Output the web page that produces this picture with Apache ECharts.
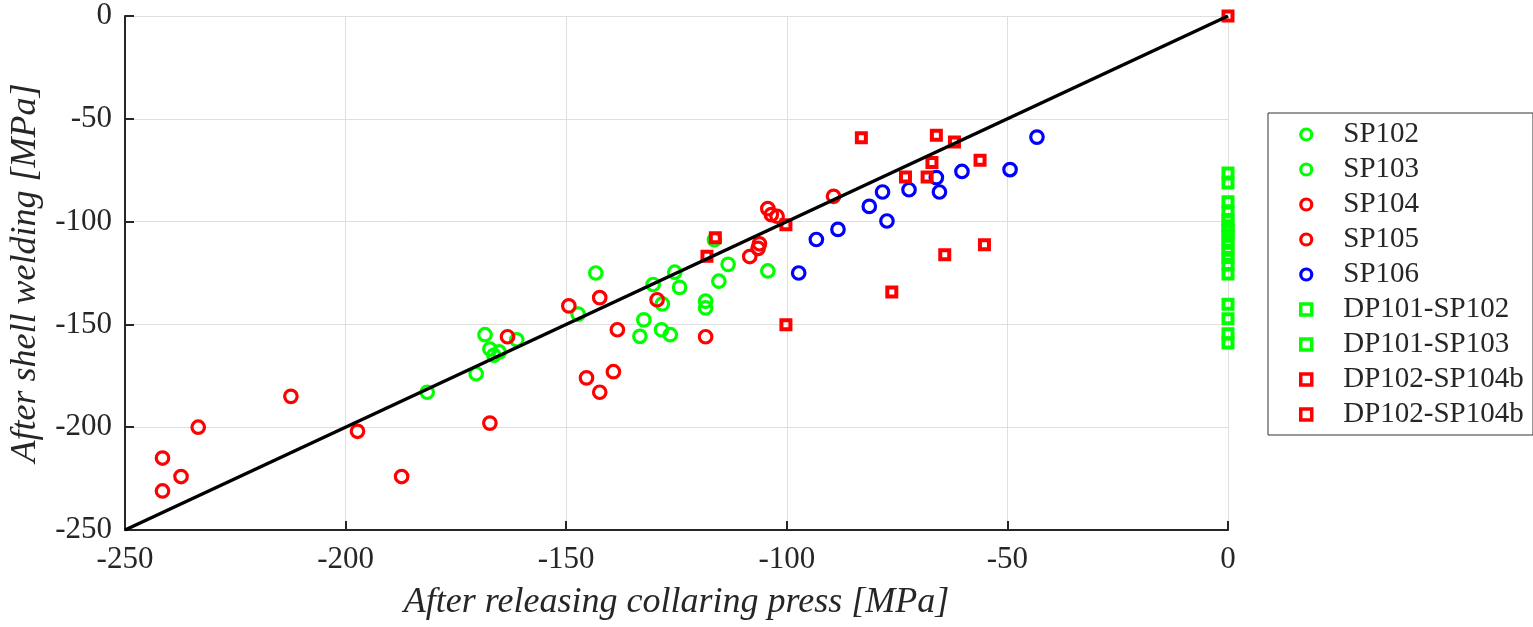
<!DOCTYPE html>
<html>
<head>
<meta charset="utf-8">
<script src="https://cdn.jsdelivr.net/npm/echarts@6/dist/echarts.min.js"></script>
<style>
html,body{margin:0;padding:0;background:#fff;}
#chart{width:1533px;height:627px;}
</style>
</head>
<body>
<div id="chart"></div>
<script>
// ---- data ----
const seriesNames = ['SP102','SP103','SP104','SP105','SP106','DP101-SP102','DP101-SP103','DP102-SP104b','DP102-SP104b '];
const xTicks = { min: -250, max: 0, interval: 50 };
const yTicks = { min: -250, max: 0, interval: 50 };
const xTitle = 'After releasing collaring press [MPa]';
const yTitle = 'After shell welding [MPa]';

const sp102 = [[-181.5,-183],[-170.4,-174],[-168.4,-155],[-167.3,-162],[-166.4,-165],[-165.2,-163.4],[-161.2,-157.5],[-147.3,-145],[-143.3,-125],[-132.4,-147.8],[-133.3,-155.8]];
const sp103 = [[-130.3,-130.6],[-128.2,-140],[-128.4,-152.6],[-126.4,-155],[-125.4,-124.6],[-124.3,-132],[-118.4,-138.7],[-118.4,-142],[-116.4,-108.8],[-115.4,-129],[-113.3,-120.8],[-104.3,-124]];
const sp104 = [[-241.5,-215],[-241.5,-231],[-237.3,-224],[-233.4,-200],[-212.4,-185],[-197.3,-202],[-187.3,-224],[-167.3,-198],[-163.3,-156],[-149.4,-141],[-142.4,-137],[-138.4,-152.6]];
const sp105 = [[-145.4,-176],[-139.3,-173],[-142.4,-183],[-129.4,-138],[-118.4,-156],[-104.3,-93.7],[-103.5,-96.6],[-102.2,-97.4],[-106.2,-110.8],[-106.5,-113],[-108.4,-117],[-89.4,-87.7]];
const sp106 = [[-97.3,-125],[-93.3,-108.7],[-88.4,-103.8],[-81.3,-92.6],[-78.3,-85.6],[-77.3,-99.7],[-72.3,-84.5],[-66.1,-78.6],[-65.4,-85.6],[-60.3,-75.6],[-49.4,-74.7],[-43.3,-58.9]];
const dp101sp102 = [[0,-76.4],[0,-90.4],[0,-99],[0,-104.5],[0,-110.5],[0,-117.5],[0,-125.5],[0,-147.2],[0,-159]];
const dp101sp103 = [[0,-81.2],[0,-95.3],[0,-102],[0,-107.1],[0,-113.9],[0,-120.9],[0,-140.2],[0,-154.5]];
const dp102a = [[0,0],[-83.1,-59.2],[-66.1,-58],[-62,-61.3],[-67.1,-71.3],[-73.1,-78.3],[-68.2,-78.3],[-56.2,-70.2]];
const dp102b = [[-55.2,-111.2],[-64.2,-116.1],[-76.2,-134.3],[-100.2,-150.2],[-100.2,-101.5],[-118.1,-116.8],[-116.2,-107.8]];
const diagonal = [[-250,-250],[0,0]];

// ---- styles ----
const GREEN = '#00ff00', RED = '#ff0000', BLUE = '#0000ff';
const FONT = '"Liberation Serif", "Times New Roman", serif';
const TXT = '#262626';
const SQUARE_ICON = 'path://M0 0H10V10H0Z';

function circles(name, data, color) {
  return {
    type: 'scatter', name, data, symbol: 'circle', symbolSize: 12.5, clip: false,
    itemStyle: { color: 'rgba(0,0,0,0)', borderColor: color, borderWidth: 3.2, opacity: 1 },
    emphasis: { disabled: true }, z: 3
  };
}
function squares(name, data, color) {
  return {
    type: 'scatter', name, data, symbol: 'rect', symbolSize: 9, clip: false,
    itemStyle: { color: 'rgba(0,0,0,0)', borderColor: color, borderWidth: 4, opacity: 1 },
    emphasis: { disabled: true }, z: 3
  };
}

const chart = echarts.init(document.getElementById('chart'), null, { renderer: 'canvas' });
chart.setOption({
  animation: false,
  backgroundColor: '#fff',
  textStyle: { fontFamily: FONT, color: TXT },
  grid: { left: 124, right: 305, top: 16, bottom: 97, containLabel: false },
  xAxis: {
    type: 'value', min: xTicks.min, max: xTicks.max, interval: xTicks.interval,
    name: xTitle, nameLocation: 'middle', nameGap: 55,
    nameTextStyle: { fontFamily: FONT, fontStyle: 'italic', fontSize: 36, color: TXT },
    axisLine: { show: true, onZero: false, lineStyle: { color: TXT, width: 2 } },
    axisTick: { show: true, inside: true, length: 9, lineStyle: { color: TXT, width: 2 } },
    axisLabel: { fontFamily: FONT, fontSize: 31, color: TXT, margin: 14 },
    splitLine: { show: true, lineStyle: { color: '#dfdfdf', width: 1 } }
  },
  yAxis: {
    type: 'value', min: yTicks.min, max: yTicks.max, interval: yTicks.interval,
    name: yTitle, nameLocation: 'middle', nameGap: 81,
    nameTextStyle: { fontFamily: FONT, fontStyle: 'italic', fontSize: 36, color: TXT },
    axisLine: { show: true, onZero: false, lineStyle: { color: TXT, width: 2 } },
    axisTick: { show: true, inside: true, length: 9, lineStyle: { color: TXT, width: 2 } },
    axisLabel: { fontFamily: FONT, fontSize: 31, color: TXT, margin: 13 },
    splitLine: { show: true, lineStyle: { color: '#dfdfdf', width: 1 } }
  },
  legend: {
    orient: 'vertical', left: 1268, top: 113,
    padding: [7, 2, 6, 31],
    itemWidth: 64, itemHeight: 11, itemGap: 6,
    symbolKeepAspect: true,
    backgroundColor: '#fff', borderColor: '#333', borderWidth: 1,
    textStyle: { fontFamily: FONT, fontSize: 29, lineHeight: 29, color: TXT, padding: 0 },
    itemStyle: { borderWidth: 3.2, opacity: 1 },
    data: seriesNames.map((n, i) => i >= 5
      ? { name: n, icon: SQUARE_ICON, itemStyle: { borderWidth: 3.5, opacity: 1 } }
      : { name: n, icon: 'circle' }),
    selectedMode: false
  },
  series: [
    circles(seriesNames[0], sp102, GREEN),
    circles(seriesNames[1], sp103, GREEN),
    circles(seriesNames[2], sp104, RED),
    circles(seriesNames[3], sp105, RED),
    circles(seriesNames[4], sp106, BLUE),
    squares(seriesNames[5], dp101sp102, GREEN),
    squares(seriesNames[6], dp101sp103, GREEN),
    squares(seriesNames[7], dp102a, RED),
    squares(seriesNames[8], dp102b, RED),
    {
      type: 'line', name: 'diagonal', data: diagonal, symbol: 'none', z: 5,
      lineStyle: { color: '#000', width: 3.5 }, emphasis: { disabled: true }, silent: true
    }
  ]
});
</script>
</body>
</html>
